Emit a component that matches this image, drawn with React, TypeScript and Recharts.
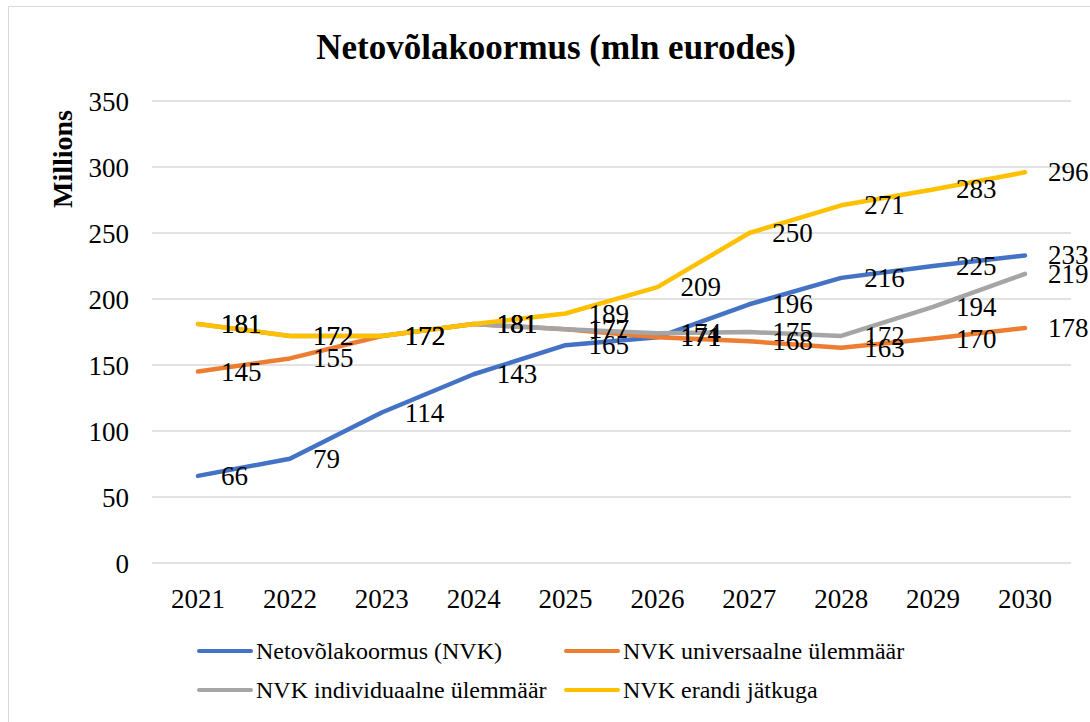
import React from 'react';
import { LineChart, Line, XAxis, YAxis, CartesianGrid, LabelList } from 'recharts';

const years = ['2021', '2022', '2023', '2024', '2025', '2026', '2027', '2028', '2029', '2030'];
const nvk = [66, 79, 114, 143, 165, 171, 196, 216, 225, 233];
const universaalne = [145, 155, 172, 181, 177, 171, 168, 163, 170, 178];
const individuaalne = [181, 172, 172, 181, 177, 174, 175, 172, 194, 219];
const erandi = [181, 172, 172, 181, 189, 209, 250, 271, 283, 296];
const yTicks = [0, 50, 100, 150, 200, 250, 300, 350];

const series = [
  { key: 'nvk', name: 'Netovõlakoormus (NVK)', color: '#4472C4', values: nvk },
  { key: 'universaalne', name: 'NVK universaalne ülemmäär', color: '#ED7D31', values: universaalne },
  { key: 'individuaalne', name: 'NVK individuaalne ülemmäär', color: '#A5A5A5', values: individuaalne },
  { key: 'erandi', name: 'NVK erandi jätkuga', color: '#FFC000', values: erandi },
];

const data = years.map((year, i) => {
  const row: Record<string, any> = { year };
  series.forEach((s) => {
    row[s.key] = s.values[i];
  });
  return row;
});

const FONT = 'Liberation Serif, DejaVu Serif, serif';

// labels sit to the right of each point, like Excel's "Right" position
const renderLabel = (props: any) => {
  const { x, y, value } = props;
  return (
    <text
      x={Number(x) + 23}
      y={Number(y)}
      dominantBaseline="central"
      textAnchor="start"
      style={{ fontFamily: FONT, fontSize: 27 }}
      fill="#000"
    >
      {value}
    </text>
  );
};

export default function App() {
  return (
    <div
      style={{
        position: 'absolute',
        left: 0,
        top: 0,
        width: 1090,
        height: 722,
        background: '#fff',
        overflow: 'hidden',
        fontFamily: FONT,
      }}
    >
      <div
        style={{
          position: 'absolute',
          left: 8,
          top: 6,
          width: 1100,
          height: 730,
          border: '1px solid #D9D9D9',
          boxSizing: 'border-box',
        }}
      />
      <div
        style={{
          position: 'absolute',
          left: 0,
          width: 1112,
          top: 28,
          textAlign: 'center',
          fontWeight: 'bold',
          fontSize: 35,
          lineHeight: 'normal',
          color: '#000',
          whiteSpace: 'nowrap',
        }}
      >
        Netovõlakoormus (mln eurodes)
      </div>
      <div
        style={{
          position: 'absolute',
          left: 63,
          top: 159,
          transform: 'translate(-50%, -50%) rotate(-90deg)',
          fontWeight: 'bold',
          fontSize: 28,
          color: '#000',
          whiteSpace: 'nowrap',
        }}
      >
        Millions
      </div>

      <div style={{ position: 'absolute', left: 0, top: 0, fontFamily: FONT }}>
        <LineChart
          width={1090}
          height={640}
          data={data}
          margin={{ top: 101, right: 19, left: 0, bottom: 37 }}
          style={{ fontFamily: FONT }}
        >
          <CartesianGrid vertical={false} stroke="#D9D9D9" strokeWidth={1.5} />
          <XAxis
            dataKey="year"
            axisLine={false}
            tickLine={false}
            tickSize={0}
            tickMargin={26}
            height={40}
            padding={{ left: 46, right: 46 }}
            tick={{ fill: '#000', fontSize: 27, style: { fontFamily: FONT } }}
            interval={0}
          />
          <YAxis
            width={152}
            domain={[0, 350]}
            ticks={yTicks}
            axisLine={false}
            tickLine={false}
            tickSize={0}
            tickMargin={23}
            tick={{ fill: '#000', fontSize: 27, style: { fontFamily: FONT } }}
          />
          {series.map((s) => (
            <Line
              key={s.key}
              type="linear"
              dataKey={s.key}
              name={s.name}
              stroke={s.color}
              strokeWidth={4.5}
              strokeLinecap="round"
              strokeLinejoin="round"
              dot={false}
              isAnimationActive={false}
            >
              <LabelList dataKey={s.key} content={renderLabel} />
            </Line>
          ))}
        </LineChart>
      </div>

      <div
        style={{
          position: 'absolute',
          left: 197,
          top: 636,
          display: 'grid',
          gridTemplateColumns: '367px auto',
          rowGap: 9,
          fontSize: 24,
          color: '#000',
        }}
      >
        {series.map((s) => (
          <div key={s.key} style={{ display: 'flex', alignItems: 'center', height: 30 }}>
            <span
              style={{
                display: 'inline-block',
                width: 56,
                height: 4,
                borderRadius: 2,
                background: s.color,
                marginRight: 3,
              }}
            />
            <span style={{ whiteSpace: 'nowrap' }}>{s.name}</span>
          </div>
        ))}
      </div>
    </div>
  );
}
